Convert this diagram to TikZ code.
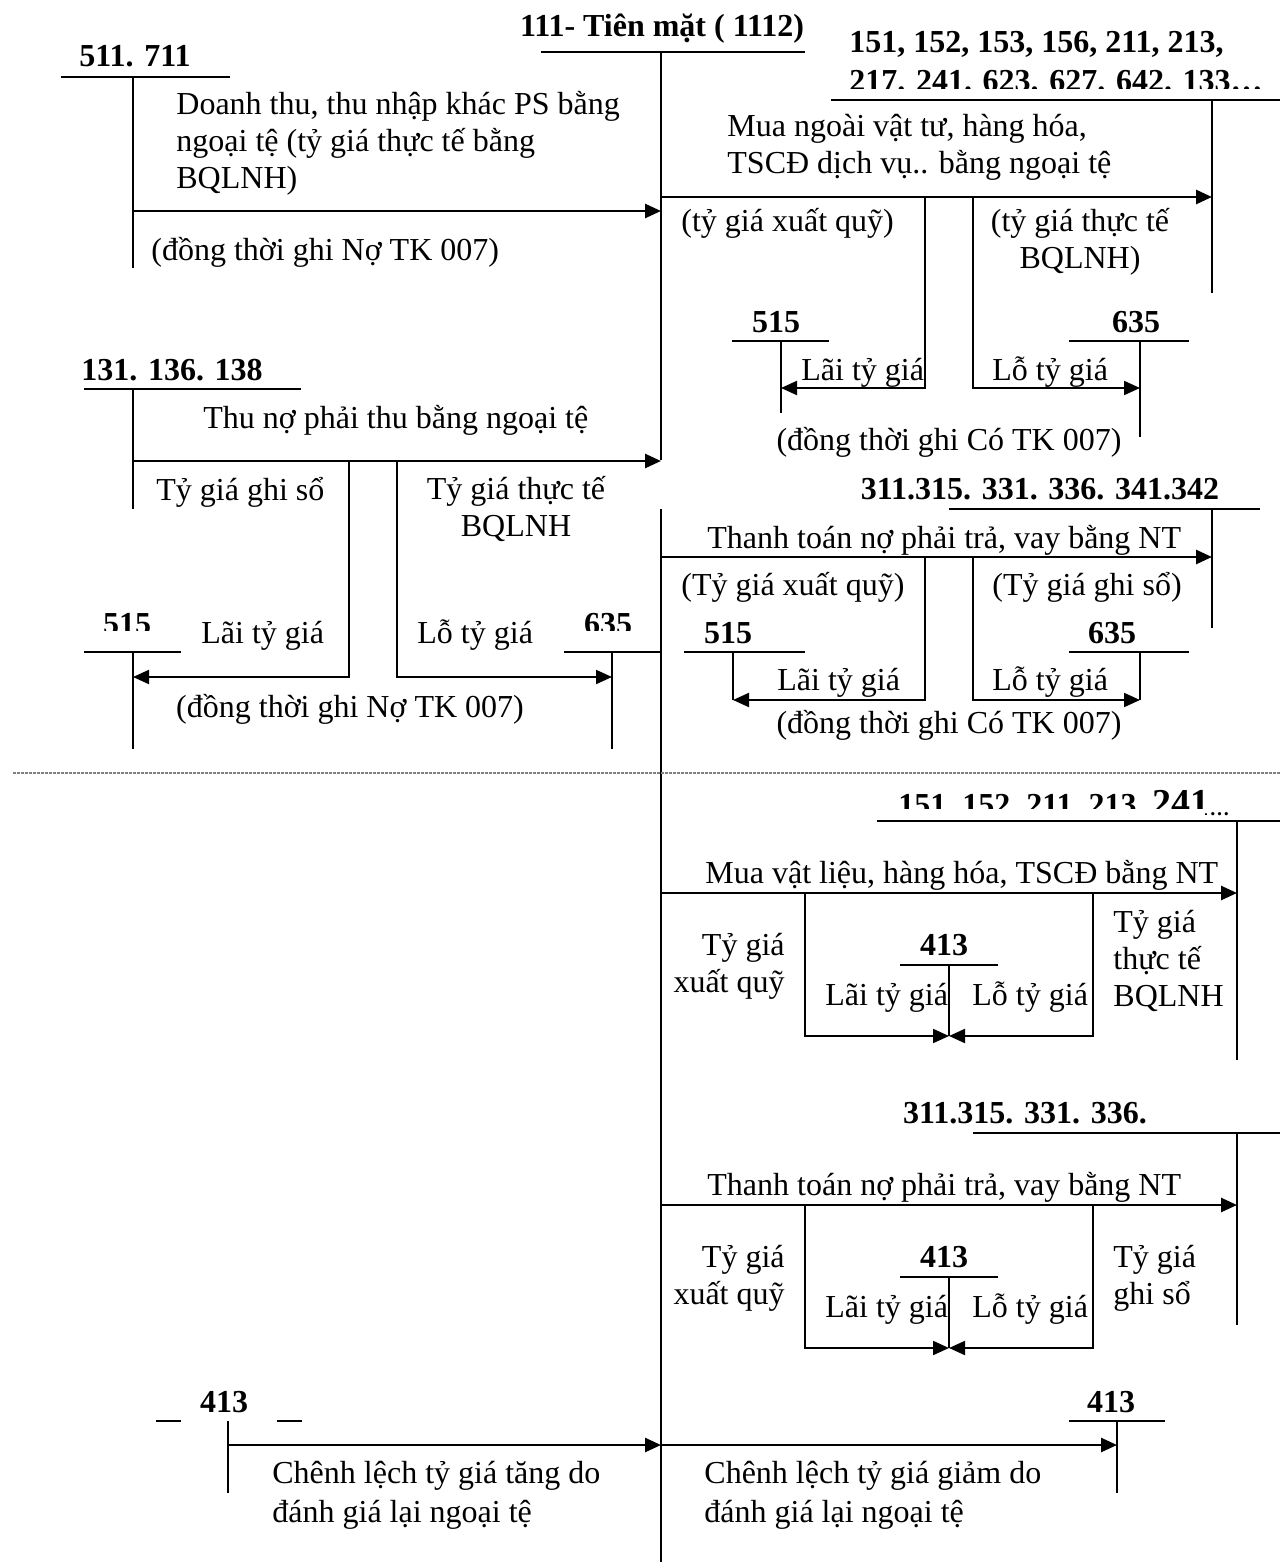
\documentclass[tikz,border=0pt]{standalone}
\usepackage{fontspec}
\setmainfont{Liberation Serif}
\usetikzlibrary{arrows.meta}
\begin{document}
\begin{tikzpicture}[x=0.5pt,y=-0.5pt,
  txt/.style={font=\fontsize{16}{18.5}\selectfont, inner sep=0pt},
  txtw/.style={font=\fontsize{16}{19.5}\selectfont, inner sep=0pt},
  acc/.style={font=\fontsize{16}{19.5}\selectfont\bfseries, inner sep=0pt},
  tl/.style={line width=0.9pt},
  arr/.style={line width=1.3pt, -{Triangle[length=8pt,width=7pt]}},
  elb/.style={line width=1pt, -{Triangle[length=8pt,width=7pt]}},
  dotl/.style={black!50, line width=0.6pt, dash pattern=on 1.3pt off 0.7pt}]
\useasboundingbox (0,0) rectangle (1280,1562);
\fill[white] (0,0) rectangle (1280,1562);

% ---------- 111 main account
\node[acc,anchor=base] (t111) at (662,37) {111- Tiên mặt ( 1112)};
\draw[tl] (541,52) -- (805,52);
\draw[tl] (661,52) -- (661,460);
\draw[tl] (661,509) -- (661,1562);

% ---------- 511. 711
\node[acc,anchor=base] (t511) at (135,67) {511. 711};
\draw[tl] (61,77) -- (230,77);
\draw[tl] (133,77) -- (133,268);
\node[txt,anchor=base west,align=left] (d511) at (176,189) {Doanh thu, thu nhập khác PS bằng\\ngoại tệ (tỷ giá thực tế bằng\\BQLNH)};
\draw[arr] (133,211) -- (661,211);
\node[txt,anchor=base west] (n511) at (151,260) {(đồng thời ghi Nợ TK 007)};

% ---------- 151... top right
\begin{scope}
\clip (820,0) rectangle (1280,89);
\node[acc,anchor=base west,align=left] (t151) at (849,92) {151, 152, 153, 156, 211, 213,\\217. 241. 623. 627. 642. 133…};
\end{scope}
\draw[tl] (831,100) -- (1280,100);
\draw[tl] (1212,100) -- (1212,293);
\node[txt,anchor=base west,align=left] (d151) at (727,174) {Mua ngoài vật tư, hàng hóa,\\TSCĐ dịch vụ.. bằng ngoại tệ};
\draw[arr] (661,197) -- (1212,197);
\node[txt,anchor=base west] (xq1) at (681,232) {(tỷ giá xuất quỹ)};
\node[txt,anchor=base,align=center] (tt1) at (1080,269) {(tỷ giá thực tế\\BQLNH)};
\draw[elb] (925,197) -- (925,388) -- (781,388);
\draw[elb] (973,197) -- (973,388) -- (1140,388);
\node[acc,anchor=base] (a515) at (776,332) {515};
\draw[tl] (732,341) -- (829,341);
\draw[tl] (781,341) -- (781,413);
\node[txt,anchor=base west] (l1) at (801,380) {Lãi tỷ giá};
\node[acc,anchor=base] (a635) at (1136,332) {635};
\draw[tl] (1069,341) -- (1189,341);
\draw[tl] (1140,341) -- (1140,437);
\node[txt,anchor=base west] (lo1) at (992,380) {Lỗ tỷ giá};
\node[txt,anchor=base] (c1) at (949,450) {(đồng thời ghi Có TK 007)};

% ---------- 131. 136. 138
\node[acc,anchor=base west] (t131) at (81,380) {131. 136. 138};
\draw[tl] (84,389) -- (301,389);
\draw[tl] (133,389) -- (133,509);
\node[txt,anchor=base west] (d131) at (203,428) {Thu nợ phải thu bằng ngoại tệ};
\draw[arr] (133,461) -- (661,461);
\draw[elb] (349,461) -- (349,677) -- (133,677);
\draw[elb] (397,461) -- (397,677) -- (612,677);
\node[txt,anchor=base west] (gs2) at (156,500) {Tỷ giá ghi sổ};
\node[txt,anchor=base,align=center] (tt2) at (516,536) {Tỷ giá thực tế\\BQLNH};
\begin{scope}
\clip (60,560) rectangle (660,630);
\node[acc,anchor=base] (b515) at (127,634) {515};
\node[acc,anchor=base] (b635) at (608,634) {635};
\end{scope}
\draw[tl] (84,652) -- (181,652);
\draw[tl] (133,652) -- (133,749);
\draw[tl] (564,652) -- (661,652);
\draw[tl] (612,652) -- (612,749);
\node[txt,anchor=base west] (l2) at (201,643) {Lãi tỷ giá};
\node[txt,anchor=base west] (lo2) at (417,643) {Lỗ tỷ giá};
\node[txt,anchor=base] (c2) at (350,717) {(đồng thời ghi Nợ TK 007)};

% ---------- 311... middle right
\node[acc,anchor=base] (t311) at (1040,499) {311.315. 331. 336. 341.342};
\draw[tl] (949,509) -- (1260,509);
\draw[tl] (1212,509) -- (1212,628);
\node[txt,anchor=base west] (d311) at (707,548) {Thanh toán nợ phải trả, vay bằng NT};
\draw[arr] (661,557) -- (1212,557);
\draw[elb] (925,557) -- (925,700) -- (733,700);
\draw[elb] (973,557) -- (973,700) -- (1140,700);
\node[txt,anchor=base west] (xq3) at (681,595) {(Tỷ giá xuất quỹ)};
\node[txt,anchor=base west] (gs3) at (992,595) {(Tỷ giá ghi sổ)};
\node[acc,anchor=base] (c515) at (728,643) {515};
\draw[tl] (684,652) -- (805,652);
\draw[tl] (733,652) -- (733,700);
\node[txt,anchor=base west] (l3) at (777,690) {Lãi tỷ giá};
\node[acc,anchor=base] (c635) at (1112,643) {635};
\draw[tl] (1069,652) -- (1189,652);
\draw[tl] (1140,652) -- (1140,700);
\node[txt,anchor=base west] (lo3) at (992,690) {Lỗ tỷ giá};
\node[txt,anchor=base] (c3) at (949,733) {(đồng thời ghi Có TK 007)};

% ---------- separator
\draw[dotl] (13,773) -- (1280,773);

% ---------- 151, 152, 211, 213, 241 lower
\begin{scope}
\clip (860,760) rectangle (1205,808) (1205,760) rectangle (1280,818);
\node[acc,anchor=base west] (t151b) at (898,815) {151, 152, 211, 213, {\fontsize{19}{20}\selectfont 241}{\fontsize{10}{12}\selectfont …}};
\end{scope}
\draw[tl] (877,821) -- (1280,821);
\draw[tl] (1237,821) -- (1237,1060);
\node[txt,anchor=base west] (d151b) at (705,883) {Mua vật liệu, hàng hóa, TSCĐ bằng NT};
\draw[arr] (661,893) -- (1237,893);
\draw[elb] (805,893) -- (805,1036) -- (949,1036);
\draw[elb] (1093,893) -- (1093,1036) -- (949,1036);
\node[acc,anchor=base] (e413) at (944,955) {413};
\draw[tl] (900,965) -- (998,965);
\draw[tl] (949,965) -- (949,1036);
\node[txt,anchor=base west] (l4) at (825,1005) {Lãi tỷ giá};
\node[txt,anchor=base west] (lo4) at (972,1005) {Lỗ tỷ giá};
\node[txt,anchor=base east,align=right] (xq4) at (785,992) {Tỷ giá\\xuất quỹ};
\node[txt,anchor=base west,align=left] (tt4) at (1113,1006) {Tỷ giá\\thực tế\\BQLNH};

% ---------- 311.315. 331. 336. lower
\node[acc,anchor=base] (t311b) at (1025,1123) {311.315. 331. 336.};
\draw[tl] (973,1133) -- (1280,1133);
\draw[tl] (1237,1133) -- (1237,1325);
\node[txt,anchor=base west] (d311b) at (707,1195) {Thanh toán nợ phải trả, vay bằng NT};
\draw[arr] (661,1205) -- (1237,1205);
\draw[elb] (805,1205) -- (805,1348) -- (949,1348);
\draw[elb] (1093,1205) -- (1093,1348) -- (949,1348);
\node[acc,anchor=base] (f413) at (944,1267) {413};
\draw[tl] (900,1277) -- (998,1277);
\draw[tl] (949,1277) -- (949,1348);
\node[txt,anchor=base west] (l5) at (825,1317) {Lãi tỷ giá};
\node[txt,anchor=base west] (lo5) at (972,1317) {Lỗ tỷ giá};
\node[txt,anchor=base east,align=right] (xq5) at (785,1304) {Tỷ giá\\xuất quỹ};
\node[txt,anchor=base west,align=left] (gs5) at (1113,1304) {Tỷ giá\\ghi sổ};

% ---------- 413 bottom
\node[acc,anchor=base] (g413) at (224,1412) {413};
\draw[tl] (156,1421) -- (181,1421);
\draw[tl] (277,1421) -- (302,1421);
\draw[tl] (228,1421) -- (228,1493);
\draw[arr] (228,1445) -- (661,1445);
\draw[arr] (661,1445) -- (1117,1445);
\node[acc,anchor=base] (h413) at (1111,1412) {413};
\draw[tl] (1069,1421) -- (1165,1421);
\draw[tl] (1117,1421) -- (1117,1493);
\node[txtw,anchor=base west,align=left] (tang) at (272,1522) {Chênh lệch tỷ giá tăng do\\đánh giá lại ngoại tệ};
\node[txtw,anchor=base west,align=left] (giam) at (704,1522) {Chênh lệch tỷ giá giảm do\\đánh giá lại ngoại tệ};
\end{tikzpicture}
\end{document}
